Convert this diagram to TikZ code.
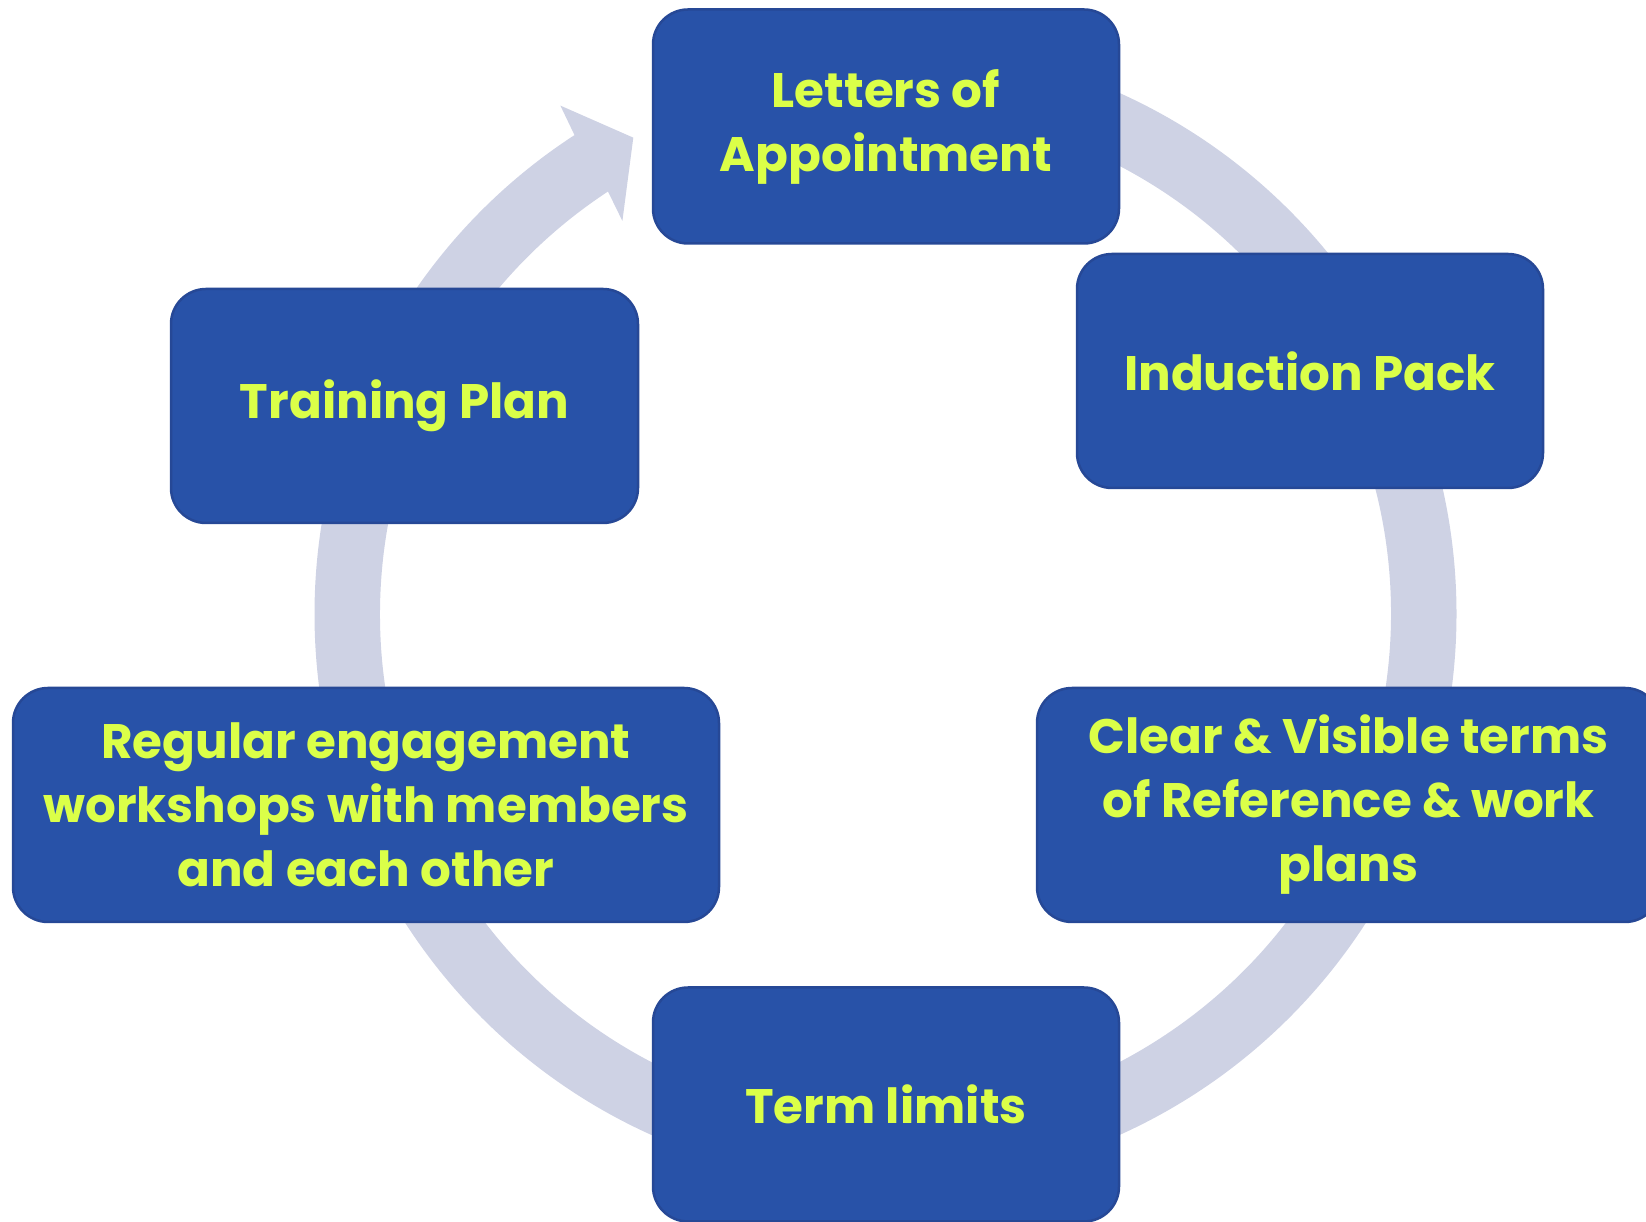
\documentclass[tikz,border=0pt]{standalone}
\usepackage{fontspec}
\setmainfont{Poppins}
\definecolor{boxblue}{RGB}{40,82,168}
\definecolor{boxedge}{RGB}{38,72,150}
\definecolor{ringc}{RGB}{206,210,228}
\definecolor{textc}{RGB}{219,255,72}
\tikzset{
  cyclebox/.style={fill=boxblue, draw=boxedge, line width=2.5pt, rounded corners=35pt,
    text=textc, font=\fontsize{48.4}{64}\selectfont\bfseries, align=center,
    inner sep=0pt, minimum height=234pt},
}
\begin{document}
\begin{tikzpicture}[x=1pt,y=1pt]
\useasboundingbox (0,0) rectangle (1646,1222);
% ring with arrowhead
\begin{scope}[shift={(885.5,608)}]
\fill[ringc] (90:571) arc[start angle=90, end angle=-237, radius=571]
  -- (122.6:603.5) -- (117.9:539) -- (123.8:473) -- (123.3:505.5)
  arc[start angle=-236.7, end angle=90, radius=505.5] -- cycle;
\end{scope}
\node[cyclebox, minimum width=466pt] (letters) at (886,1095.5) {Letters of\\Appointment};
\node[cyclebox, minimum width=466pt] (induction) at (1310,851) {Induction Pack};
\node[cyclebox, minimum width=467pt] (training) at (404.5,816) {Training Plan};
\node[cyclebox, minimum width=706pt] (regular) at (366,417) {Regular engagement\\workshops with members\\and each other};
\node[cyclebox, minimum width=623pt] (clear) at (1348.5,417) {Clear \& Visible terms\\of Reference \& work\\plans};
\node[cyclebox, minimum width=466pt] (term) at (886,117.5) {Term limits};
\end{tikzpicture}
\end{document}
